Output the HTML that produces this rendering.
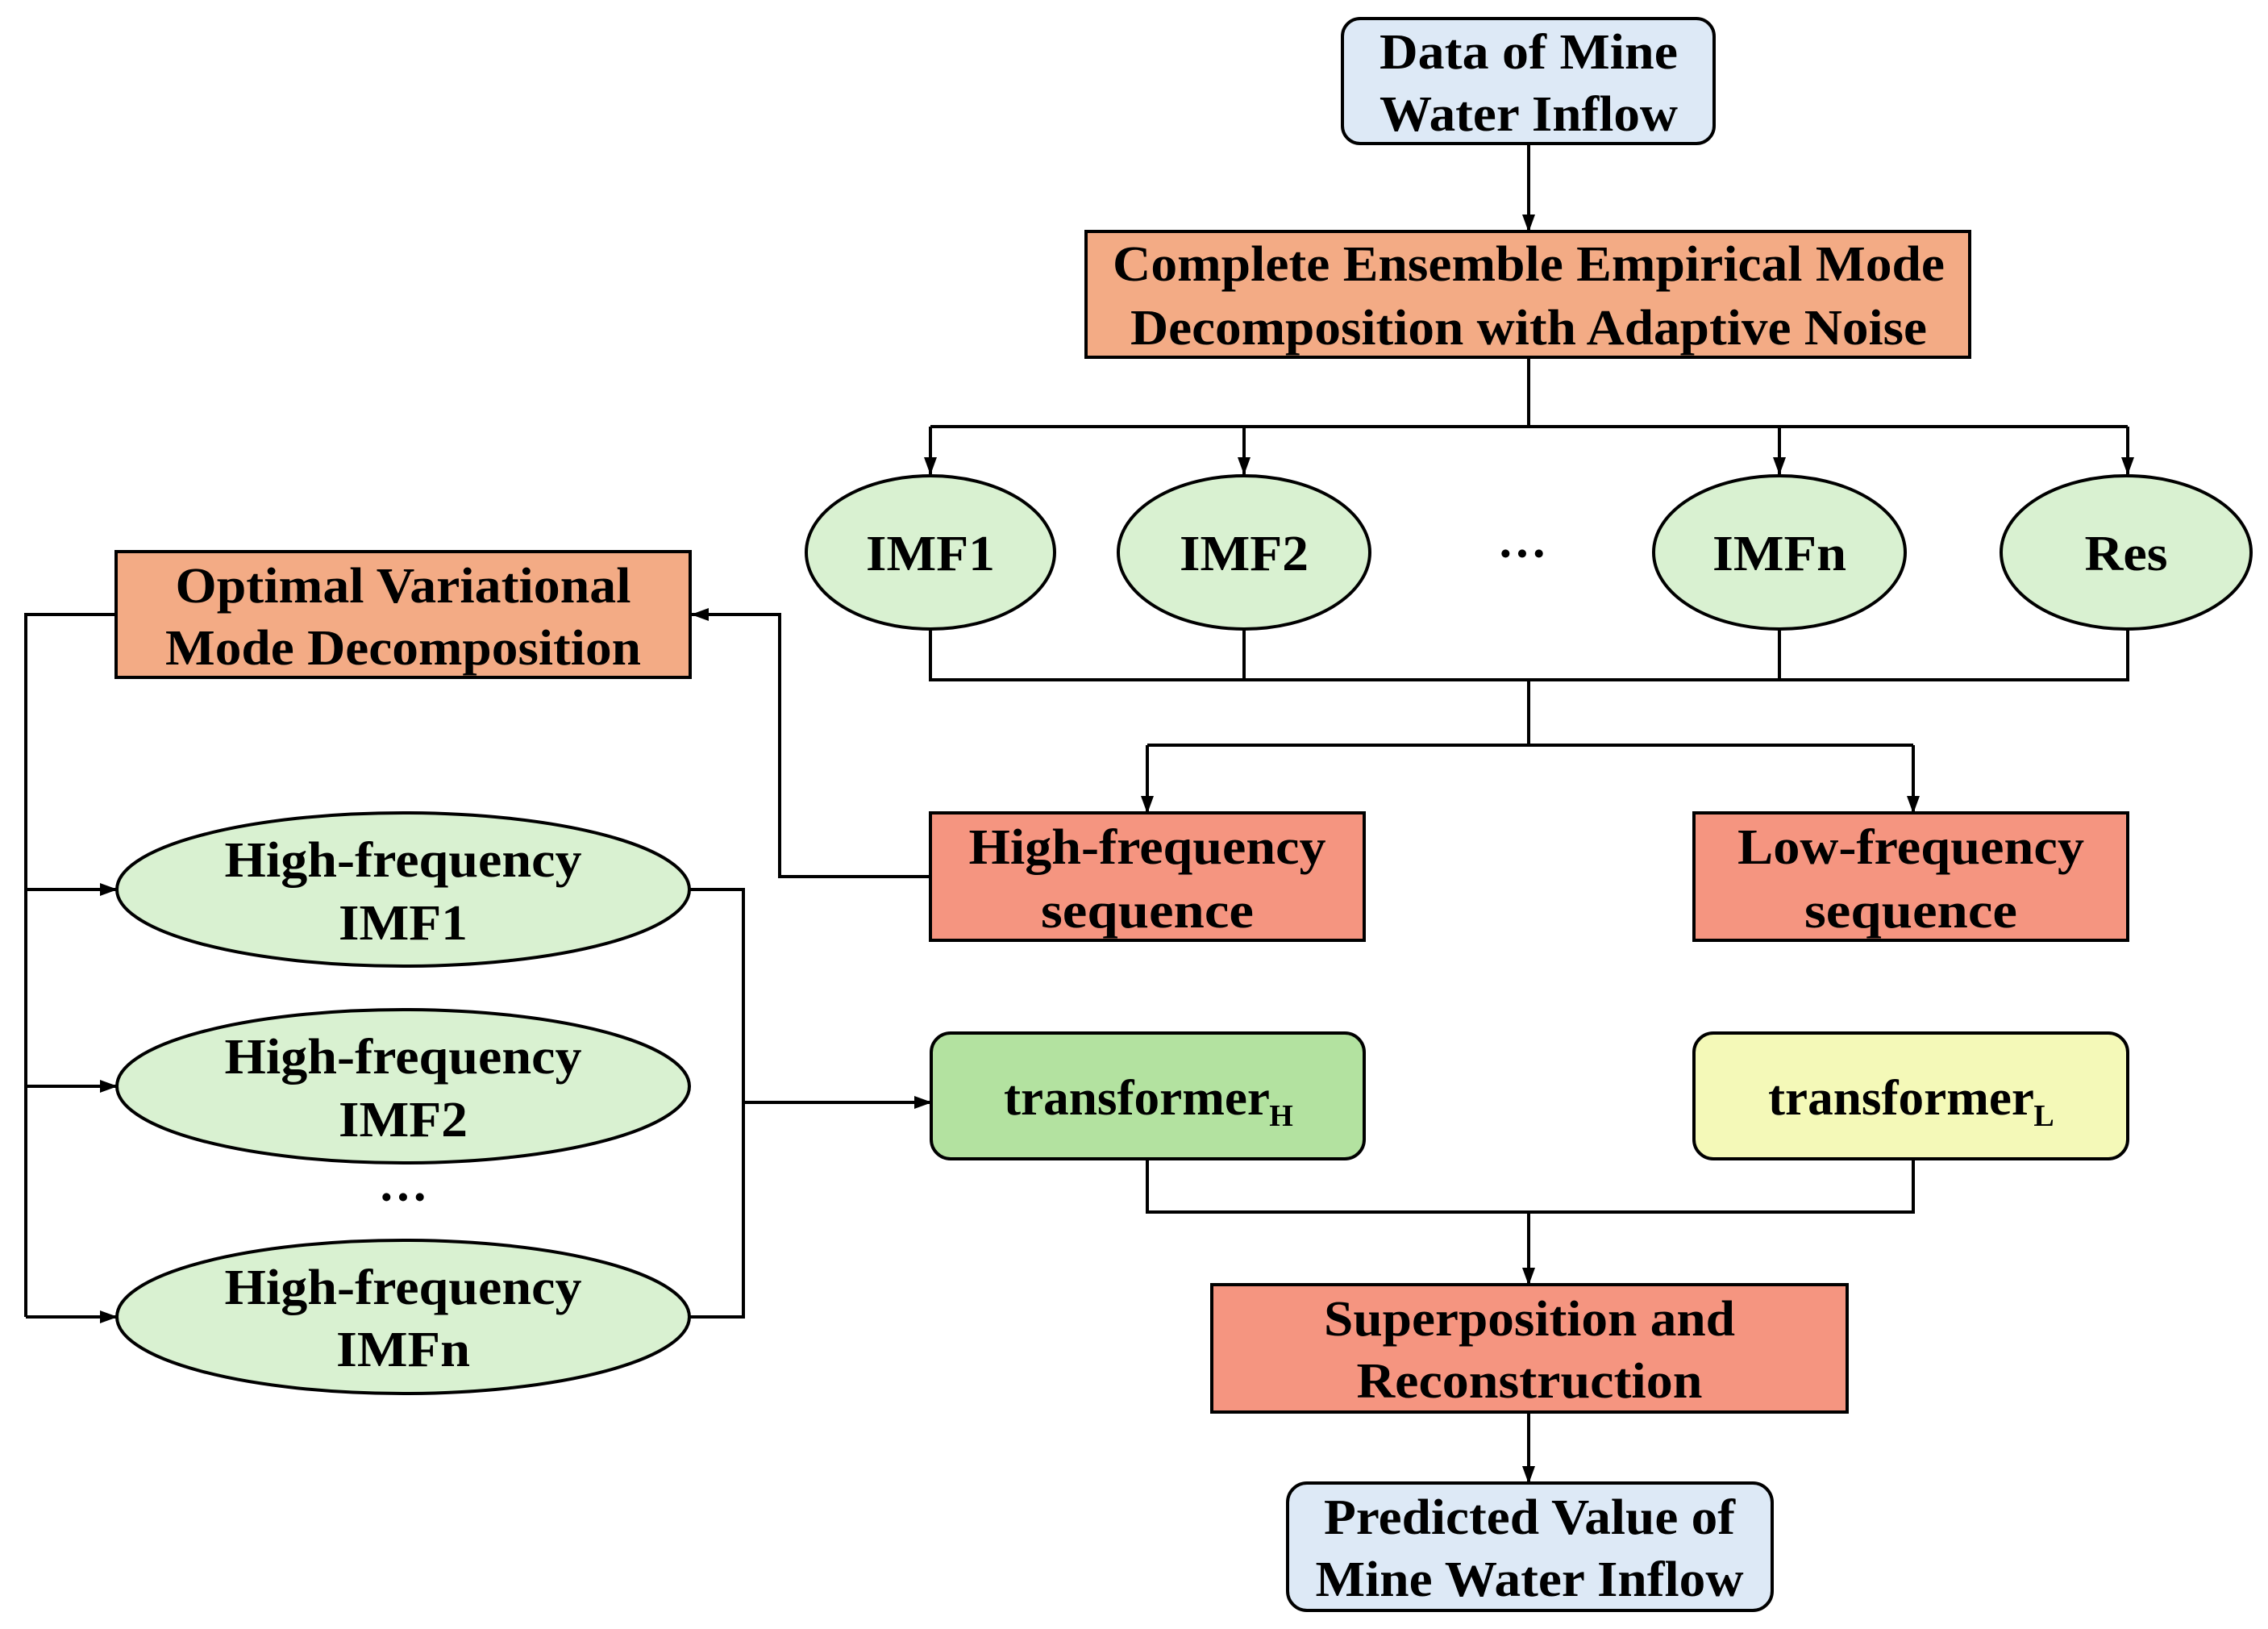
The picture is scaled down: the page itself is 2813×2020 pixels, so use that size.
<!DOCTYPE html>
<html><head><meta charset="utf-8"><style>
html,body{margin:0;padding:0;background:#fff;}
svg{display:block;}
text{font-family:"Liberation Serif",serif;font-weight:bold;font-size:62px;fill:#000;text-anchor:middle;dominant-baseline:central;}
</style></head><body>
<svg width="2813" height="2020" viewBox="0 0 2813 2020" xmlns="http://www.w3.org/2000/svg">
<defs>
<marker id="b" markerWidth="22" markerHeight="22" refX="21" refY="11" orient="auto" markerUnits="userSpaceOnUse" viewBox="0 0 22 22"><path d="M0,3 L22,11 L0,19 z" fill="#000"/></marker></defs>
<g stroke="#000" stroke-width="4" fill="none">
<path d="M1896 178 V287" marker-end="url(#b)"/>
<path d="M1896 443 V529 M1154 529 H2639"/>
<path d="M1154 529 V588" marker-end="url(#b)"/>
<path d="M1543 529 V588" marker-end="url(#b)"/>
<path d="M2207 529 V588" marker-end="url(#b)"/>
<path d="M2639 529 V588" marker-end="url(#b)"/>
<path d="M1154 780 V843 H2639 V780 M1543 780 V843 M2207 780 V843 M1896 843 V924 M1423 924 H2373"/>
<path d="M1423 924 V1008" marker-end="url(#b)"/>
<path d="M2373 924 V1008" marker-end="url(#b)"/>
<path d="M1154 1087 H967 V762 H858" marker-end="url(#b)"/>
<path d="M144 762 H32 V1633"/>
<path d="M32 1103 H145" marker-end="url(#b)"/>
<path d="M32 1347 H145" marker-end="url(#b)"/>
<path d="M32 1633 H145" marker-end="url(#b)"/>
<path d="M856 1103 H922 V1633 H856"/>
<path d="M922 1367 H1155" marker-end="url(#b)"/>
<path d="M1423 1437 V1503 H2373 V1437 M1896 1503 V1593" marker-end="url(#b)"/>
<path d="M1896 1751 V1839" marker-end="url(#b)"/>
</g>
<g stroke="#000" stroke-width="4">
<rect x="1665" y="23" width="461" height="155" rx="22" fill="#dde9f6"/>
<rect x="1347" y="287" width="1096" height="156" fill="#f3ab85"/>
<ellipse cx="1154" cy="685" rx="154" ry="95" fill="#d9f1d1"/>
<ellipse cx="1543" cy="685" rx="156" ry="95" fill="#d9f1d1"/>
<ellipse cx="2207" cy="685" rx="156" ry="95" fill="#d9f1d1"/>
<ellipse cx="2637" cy="685" rx="155" ry="95" fill="#d9f1d1"/>
<rect x="144" y="684" width="712" height="156" fill="#f3ab85"/>
<rect x="1154" y="1008" width="538" height="158" fill="#f59580"/>
<rect x="2101" y="1008" width="538" height="158" fill="#f59580"/>
<ellipse cx="500" cy="1103" rx="355" ry="95" fill="#d9f1d1"/>
<ellipse cx="500" cy="1347" rx="355" ry="95" fill="#d9f1d1"/>
<ellipse cx="500" cy="1633" rx="355" ry="95" fill="#d9f1d1"/>
<rect x="1155" y="1281" width="537" height="156" rx="24" fill="#b3e2a0"/>
<rect x="2101" y="1281" width="538" height="156" rx="24" fill="#f4f9b8"/>
<rect x="1503" y="1593" width="788" height="158" fill="#f59580"/>
<rect x="1597" y="1839" width="601" height="158" rx="24" fill="#dde9f6"/>
</g>
<text x="1896" y="65" textLength="370" lengthAdjust="spacingAndGlyphs">Data of Mine</text>
<text x="1896" y="142" textLength="370" lengthAdjust="spacingAndGlyphs">Water Inflow</text>
<text x="1896" y="328" textLength="1032" lengthAdjust="spacingAndGlyphs">Complete Ensemble Empirical Mode</text>
<text x="1896" y="407" textLength="988" lengthAdjust="spacingAndGlyphs">Decomposition with Adaptive Noise</text>
<text x="1154" y="687" textLength="160" lengthAdjust="spacingAndGlyphs">IMF1</text>
<text x="1543" y="687" textLength="160" lengthAdjust="spacingAndGlyphs">IMF2</text>
<text x="1888" y="687">···</text>
<text x="2207" y="687" textLength="166" lengthAdjust="spacingAndGlyphs">IMFn</text>
<text x="2637" y="687" textLength="103" lengthAdjust="spacingAndGlyphs">Res</text>
<text x="500" y="727" textLength="565" lengthAdjust="spacingAndGlyphs">Optimal Variational</text>
<text x="500" y="804" textLength="590" lengthAdjust="spacingAndGlyphs">Mode Decomposition</text>
<text x="1423" y="1051" textLength="443" lengthAdjust="spacingAndGlyphs">High-frequency</text>
<text x="1423" y="1130" textLength="264" lengthAdjust="spacingAndGlyphs">sequence</text>
<text x="2370" y="1051" textLength="430" lengthAdjust="spacingAndGlyphs">Low-frequency</text>
<text x="2370" y="1130" textLength="264" lengthAdjust="spacingAndGlyphs">sequence</text>
<text x="500" y="1067" textLength="443" lengthAdjust="spacingAndGlyphs">High-frequency</text>
<text x="500" y="1145" textLength="160" lengthAdjust="spacingAndGlyphs">IMF1</text>
<text x="500" y="1311" textLength="443" lengthAdjust="spacingAndGlyphs">High-frequency</text>
<text x="500" y="1389" textLength="160" lengthAdjust="spacingAndGlyphs">IMF2</text>
<text x="500" y="1485">···</text>
<text x="500" y="1597" textLength="443" lengthAdjust="spacingAndGlyphs">High-frequency</text>
<text x="500" y="1674" textLength="166" lengthAdjust="spacingAndGlyphs">IMFn</text>
<text x="1410" y="1362" textLength="330" lengthAdjust="spacingAndGlyphs">transformer</text>
<text x="1589" y="1384" style="font-size:38px">H</text>
<text x="2358" y="1362" textLength="330" lengthAdjust="spacingAndGlyphs">transformer</text>
<text x="2535" y="1384" style="font-size:38px">L</text>
<text x="1897" y="1636" textLength="510" lengthAdjust="spacingAndGlyphs">Superposition and</text>
<text x="1897" y="1713" textLength="429" lengthAdjust="spacingAndGlyphs">Reconstruction</text>
<text x="1897" y="1882" textLength="510" lengthAdjust="spacingAndGlyphs">Predicted Value of</text>
<text x="1897" y="1959" textLength="531" lengthAdjust="spacingAndGlyphs">Mine Water Inflow</text>
</svg>
</body></html>
